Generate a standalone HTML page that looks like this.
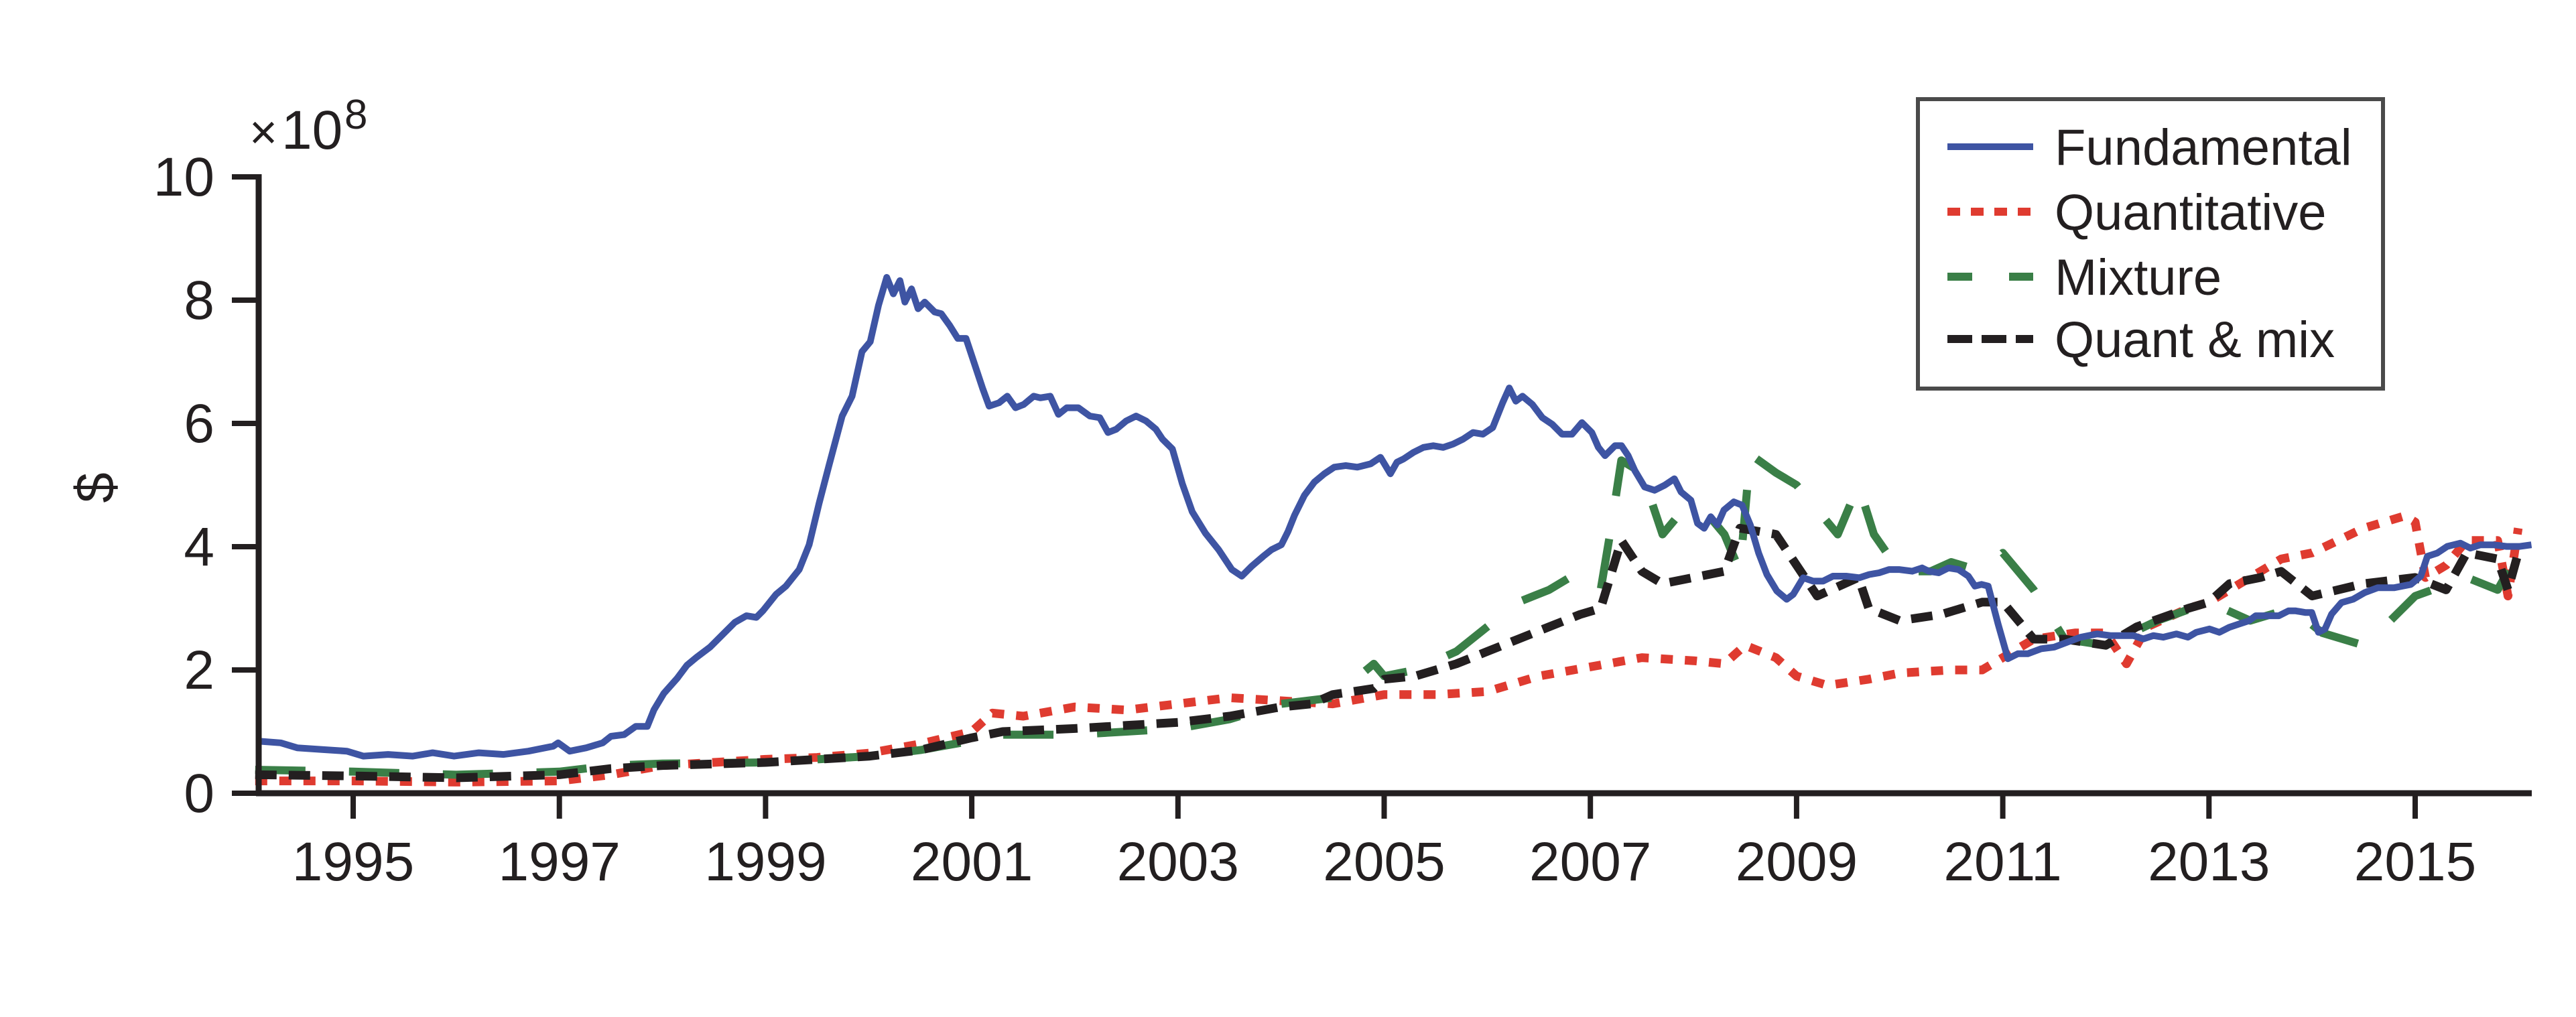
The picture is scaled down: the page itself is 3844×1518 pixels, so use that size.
<!DOCTYPE html>
<html><head><meta charset="utf-8"><style>
html,body{margin:0;padding:0;background:#fff;}
svg{display:block;}
text{font-family:"Liberation Sans",Arial,sans-serif;fill:#231f20;}
</style></head><body>
<svg id="s" width="3844" height="1518" viewBox="0 0 3844 1518" xmlns="http://www.w3.org/2000/svg">
<rect width="3844" height="1518" fill="#fff"/>
<g id="series"></g>
<line x1="386" y1="260" x2="386" y2="1188" stroke="#231f20" stroke-width="9"/>
<line x1="382" y1="1184" x2="3778" y2="1184" stroke="#231f20" stroke-width="9"/>
<g stroke="#231f20" stroke-width="8">
<line x1="346" y1="264" x2="386" y2="264"/>
<line x1="346" y1="448" x2="386" y2="448"/>
<line x1="346" y1="632" x2="386" y2="632"/>
<line x1="346" y1="816" x2="386" y2="816"/>
<line x1="346" y1="1000" x2="386" y2="1000"/>
<line x1="346" y1="1184" x2="386" y2="1184"/>
</g>
<g id="xt" stroke="#231f20" stroke-width="8"></g>
<g font-size="82" text-anchor="end">
<text x="320" y="292">10</text>
<text x="320" y="476">8</text>
<text x="320" y="660">6</text>
<text x="320" y="844">4</text>
<text x="320" y="1028">2</text>
<text x="320" y="1212">0</text>
</g>
<text x="372" y="222" font-size="72">×</text>
<text x="420" y="222" font-size="82">10</text>
<text x="514" y="192" font-size="62">8</text>
<text x="0" y="0" font-size="82" text-anchor="middle" transform="translate(170,728) rotate(-90)">$</text>
<g id="xl" font-size="82" text-anchor="middle"></g>
<rect x="2862" y="148" width="694" height="432" fill="#fff" stroke="#4a4a4a" stroke-width="6"/>
<line x1="2906" y1="219" x2="3034" y2="219" stroke="#3e54a3" stroke-width="10"/>
<line x1="2906" y1="316" x2="3034" y2="316" stroke="#df3b30" stroke-width="12" stroke-dasharray="19 16"/>
<line x1="2906" y1="413" x2="3034" y2="413" stroke="#3a7f47" stroke-width="12" stroke-dasharray="37 55"/>
<line x1="2906" y1="506" x2="3034" y2="506" stroke="#231f20" stroke-width="12" stroke-dasharray="37 14"/>
<g font-size="76">
<text x="3066" y="246">Fundamental</text>
<text x="3066" y="343">Quantitative</text>
<text x="3066" y="440">Mixture</text>
<text x="3066" y="533">Quant &amp; mix</text>
</g>
</svg>
<script>
const X=t=>527+153.85*(t-1995), Y=v=>1184-92*v;
const ns="http://www.w3.org/2000/svg";
const xt=document.getElementById('xt'), xl=document.getElementById('xl');
for(let y=1995;y<=2015;y+=2){const l=document.createElementNS(ns,'line');l.setAttribute('x1',X(y));l.setAttribute('x2',X(y));l.setAttribute('y1',1184);l.setAttribute('y2',1222);xt.appendChild(l);
const t=document.createElementNS(ns,'text');t.setAttribute('x',X(y));t.setAttribute('y',1314);t.textContent=y;xl.appendChild(t);}
function px(p){return p.map(q=>[X(q[0]),Y(q[1])]);}
function path(pts,col,w,dash){const p=document.createElementNS(ns,'path');p.setAttribute('d','M'+pts.map(q=>q[0].toFixed(1)+','+q[1].toFixed(1)).join('L'));p.setAttribute('fill','none');p.setAttribute('stroke',col);p.setAttribute('stroke-width',w);p.setAttribute('stroke-linejoin','round');if(dash)p.setAttribute('stroke-dasharray',dash);document.getElementById('series').appendChild(p);}
const F=[[157,449],[170,450],[180,453],[195,454],[210,455],[220,458],[235,457],[250,458],[262,456],[275,458],[290,456],[305,457],[320,455],[335,452],[338,450],[345,455],[355,453],[365,450],[370,446],[378,445],[385,440],[392,440],[396,430],[402,420],[410,411],[416,403],[422,398],[430,392],[437,385],[445,377],[452,373],[458,374],[462,370],[470,360],[476,355],[484,345],[490,330],[496,305],[502,282],[510,252],[516,240],[522,213],[527,207],[532,185],[537,168],[541,178],[545,170],[548,183],[552,175],[556,187],[560,183],[566,189],[570,190],[575,197],[580,205],[585,205],[590,220],[595,235],[599,246],[605,244],[610,240],[615,247],[620,245],[626,240],[630,241],[636,240],[641,251],[646,247],[653,247],[660,252],[666,253],[671,262],[676,260],[682,255],[688,252],[694,255],[700,260],[704,266],[710,272],[716,293],[722,310],[730,323],[738,333],[746,345],[752,349],[758,343],[765,337],[770,333],[776,330],[780,322],[784,312],[790,300],[796,292],[802,287],[808,283],[815,282],[822,283],[830,281],[836,277],[842,287],[846,280],[850,278],[856,274],[862,271],[868,270],[874,271],[880,269],[886,266],[892,262],[898,263],[904,259],[910,244],[914,235],[918,243],[922,240],[928,245],[934,253],[940,257],[946,263],[952,263],[958,256],[964,262],[968,271],[972,276],[978,270],[982,270],[986,276],[990,285],[996,295],[1002,297],[1008,294],[1014,290],[1018,298],[1024,303],[1028,317],[1032,320],[1036,313],[1040,318],[1044,309],[1050,304],[1055,306],[1060,318],[1065,335],[1070,348],[1076,358],[1082,363],[1086,360],[1092,350],[1098,352],[1104,352],[1110,349],[1118,349],[1126,350],[1132,348],[1138,347],[1144,345],[1150,345],[1158,346],[1164,344],[1168,346],[1174,347],[1180,344],[1186,345],[1192,349],[1196,355],[1200,354],[1204,355],[1210,378],[1216,399],[1222,396],[1228,396],[1236,393],[1244,392],[1252,389],[1260,386],[1270,384],[1278,385],[1286,385],[1292,385],[1298,387],[1304,385],[1310,386],[1318,384],[1325,386],[1330,383],[1338,381],[1344,383],[1350,380],[1356,378],[1362,376],[1366,373],[1370,373],[1376,373],[1380,373],[1386,370],[1390,370],[1396,371],[1400,371],[1404,383],[1408,381],[1412,372],[1418,365],[1425,363],[1432,359],[1440,356],[1450,356],[1460,354],[1466,349],[1470,337],[1476,335],[1482,331],[1490,329],[1496,332],[1502,330],[1510,330],[1518,331],[1526,331],[1533,330]];
const Fm=F.map(q=>[q[0]*2.4641,(q[1]*2.4641)]);
const Q=[[1994.05,0.2],[1995,0.2],[1996,0.18],[1997,0.2],[1997.5,0.3],[1998,0.45],[1999,0.55],[1999.5,0.58],[2000,0.65],[2000.5,0.8],[2001,1.0],[2001.2,1.3],[2001.5,1.25],[2002,1.4],[2002.5,1.35],[2003,1.45],[2003.5,1.55],[2004,1.5],[2004.5,1.45],[2005,1.6],[2005.5,1.6],[2006,1.65],[2006.5,1.9],[2007,2.05],[2007.5,2.2],[2008,2.15],[2008.3,2.1],[2008.5,2.4],[2008.8,2.2],[2009,1.9],[2009.3,1.75],[2009.7,1.85],[2010,1.95],[2010.5,2.0],[2010.8,2.0],[2011,2.2],[2011.3,2.5],[2011.7,2.6],[2012,2.6],[2012.2,2.1],[2012.4,2.7],[2012.8,3.0],[2013,3.1],[2013.3,3.4],[2013.7,3.8],[2014,3.9],[2014.5,4.3],[2014.9,4.5],[2015,4.4],[2015.1,3.5],[2015.3,3.7],[2015.5,4.1],[2015.8,4.1],[2015.9,3.2],[2016,4.3]];
const M=[[1994.05,0.38],[1995,0.35],[1996,0.3],[1997,0.35],[1997.5,0.45],[1998,0.48],[1999,0.5],[2000,0.6],[2000.5,0.7],[2001,0.85],[2001.3,0.95],[2002,0.95],[2002.5,1.0],[2003,1.05],[2003.5,1.2],[2004,1.45],[2004.5,1.55],[2004.9,2.1],[2005,1.9],[2005.3,2.0],[2005.7,2.3],[2006,2.7],[2006.3,3.1],[2006.6,3.3],[2006.9,3.6],[2007.1,3.3],[2007.2,4.3],[2007.3,5.4],[2007.5,5.2],[2007.7,4.2],[2007.9,4.6],[2008.1,4.6],[2008.3,4.2],[2008.45,3.6],[2008.55,5.5],[2008.8,5.2],[2009.0,5.0],[2009.2,4.6],[2009.4,4.2],[2009.6,5.0],[2009.75,4.2],[2010,3.6],[2010.3,3.6],[2010.5,3.75],[2010.8,3.6],[2011,3.9],[2011.3,3.3],[2011.6,2.5],[2012,2.4],[2012.5,2.8],[2013,3.1],[2013.4,2.8],[2013.8,3.0],[2014.1,2.6],[2014.5,2.4],[2014.7,2.7],[2015,3.2],[2015.5,3.5],[2015.8,3.3],[2016,3.9]];
const K=[[1994.05,0.3],[1995,0.28],[1996,0.25],[1997,0.3],[1997.5,0.4],[1998,0.45],[1999,0.5],[2000,0.6],[2000.5,0.7],[2001,0.9],[2001.3,1.0],[2002,1.05],[2002.5,1.1],[2003,1.15],[2003.5,1.25],[2004,1.4],[2004.3,1.45],[2004.5,1.6],[2004.9,1.7],[2005,1.85],[2005.3,1.9],[2005.7,2.1],[2006,2.3],[2006.3,2.5],[2006.6,2.7],[2006.9,2.9],[2007.1,3.0],[2007.3,4.1],[2007.5,3.6],[2007.7,3.4],[2008,3.5],[2008.3,3.6],[2008.45,4.3],[2008.8,4.2],[2009.0,3.7],[2009.2,3.2],[2009.6,3.5],[2009.7,3.0],[2010,2.8],[2010.4,2.9],[2010.8,3.1],[2011,3.1],[2011.3,2.5],[2011.6,2.5],[2012,2.4],[2012.3,2.7],[2012.8,3.0],[2013,3.1],[2013.2,3.4],[2013.5,3.5],[2013.7,3.6],[2014,3.2],[2014.5,3.4],[2015,3.5],[2015.3,3.3],[2015.5,3.9],[2015.8,3.8],[2015.9,3.3],[2016,3.9]];
path(px(Q),'#df3b30',13,'18 18');
path(px(M),'#3a7f47',12,'75 65');
path(px(K),'#231f20',13,'32 18');
path(Fm,'#3e54a3',10,null);
</script>
</body></html>
